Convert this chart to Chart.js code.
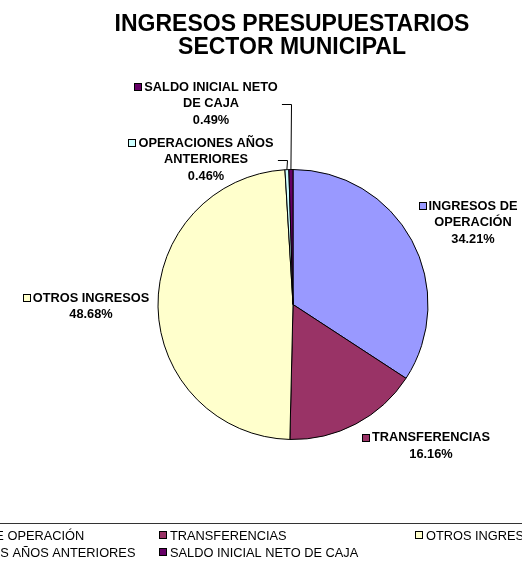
<!DOCTYPE html>
<html><head><meta charset="utf-8">
<script src="https://cdn.jsdelivr.net/npm/chart.js@4/dist/chart.umd.min.js"></script>
<style>html,body{margin:0;padding:0;background:#fff;overflow:hidden}#wrap{width:522px;height:561px;position:relative}canvas{display:block}</style>
</head><body><div id="wrap"><canvas id="c" width="522" height="561"></canvas></div>
<script>
const titleLines = ['INGRESOS PRESUPUESTARIOS', 'SECTOR MUNICIPAL'];
const categories = ['INGRESOS DE OPERACIÓN', 'TRANSFERENCIAS', 'OTROS INGRESOS', 'OPERACIONES AÑOS ANTERIORES', 'SALDO INICIAL NETO DE CAJA'];
const labelLines = [['INGRESOS DE', 'OPERACIÓN'], ['TRANSFERENCIAS'], ['OTROS INGRESOS'], ['OPERACIONES AÑOS', 'ANTERIORES'], ['SALDO INICIAL NETO', 'DE CAJA']];
const percentages = [34.21, 16.16, 48.68, 0.46, 0.49];
const colors = ['#9999FF', '#993366', '#FFFFCC', '#CCFFFF', '#660066'];

const FONT = '"Liberation Sans", Arial, sans-serif';

// label block placement (text centre x, first line centre y)
const labelPlace = [
  {cx: 473, y: 206}, {cx: 431, y: 437.5}, {cx: 91, y: 298}, {cx: 206, y: 143}, {cx: 211, y: 87}
];
const leaderFor = [3, 4];

const customDraw = {
  id: 'customDraw',
  afterDatasetsDraw(chart) {
    const ctx = chart.ctx;
    const meta = chart.getDatasetMeta(0);
    const lh = 16.7;
    ctx.save();
    // leader lines
    ctx.strokeStyle = '#000';
    ctx.lineWidth = 1;
    leaderFor.forEach(i => {
      const arc = meta.data[i];
      const mid = (arc.startAngle + arc.endAngle) / 2;
      const px = arc.x + Math.cos(mid) * arc.outerRadius;
      const py = arc.y + Math.sin(mid) * arc.outerRadius;
      const ly = labelPlace[i].y + lh;
      ctx.beginPath();
      ctx.moveTo(px - 9, Math.round(ly) + 0.5);
      ctx.lineTo(Math.round(px) + 0.5, Math.round(ly) + 0.5);
      ctx.lineTo(px, py);
      ctx.stroke();
    });
    // data labels
    ctx.font = 'bold 12.8px ' + FONT;
    ctx.textBaseline = 'middle';
    ctx.textAlign = 'center';
    ctx.fillStyle = '#000';
    labelLines.forEach((lines, i) => {
      const p = labelPlace[i];
      const all = lines.concat([percentages[i].toFixed(2) + '%']);
      all.forEach((t, k) => {
        ctx.fillText(t, p.cx, p.y + k * lh);
      });
      const w = ctx.measureText(lines[0]).width;
      const mx = Math.round(p.cx - w / 2 - 10);
      const my = Math.round(p.y - 4);
      ctx.fillStyle = colors[i];
      ctx.fillRect(mx, my, 8, 8);
      ctx.strokeStyle = '#000';
      ctx.strokeRect(mx + 0.5, my + 0.5, 7, 7);
      ctx.fillStyle = '#000';
    });
    // title
    ctx.font = 'bold 23px ' + FONT;
    ctx.textBaseline = 'alphabetic';
    ctx.fillText(titleLines[0], 292, 30.5);
    ctx.fillText(titleLines[1], 292, 53.5);
    // legend
    ctx.strokeStyle = '#333';
    ctx.beginPath();
    ctx.moveTo(0, 523.5);
    ctx.lineTo(522, 523.5);
    ctx.stroke();
    const colX = [-96, 159, 415];
    const rowY = [535.5, 552.5];
    ctx.font = '12.8px ' + FONT;
    ctx.textAlign = 'left';
    ctx.textBaseline = 'middle';
    categories.forEach((c, i) => {
      const x = colX[i % 3];
      const y = rowY[Math.floor(i / 3)];
      ctx.fillStyle = colors[i];
      ctx.fillRect(x, Math.round(y - 4.5), 8, 8);
      ctx.strokeStyle = '#000';
      ctx.strokeRect(x + 0.5, Math.round(y - 4.5) + 0.5, 7, 7);
      ctx.fillStyle = '#000';
      ctx.fillText(c, x + 11, y + 0.5);
    });
    ctx.restore();
  }
};

new Chart(document.getElementById('c'), {
  type: 'pie',
  data: {
    labels: categories,
    datasets: [{
      data: percentages,
      backgroundColor: colors,
      borderColor: '#000',
      borderWidth: 1,
      hoverOffset: 0,
      radius: 135
    }]
  },
  options: {
    responsive: false,
    animation: false,
    layout: {padding: {left: 150, right: 86, top: 160, bottom: 112}},
    plugins: {legend: {display: false}, tooltip: {enabled: false}, title: {display: false}}
  },
  plugins: [customDraw]
});
</script></body></html>
